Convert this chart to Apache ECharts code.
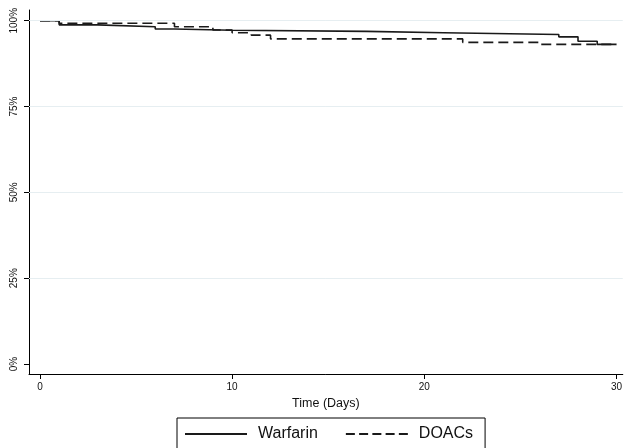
<!DOCTYPE html>
<html>
<head>
<meta charset="utf-8">
<script src="https://cdn.jsdelivr.net/npm/echarts@6/dist/echarts.min.js"></script>
<style>
html,body{margin:0;padding:0;background:#fff;}
#chart{width:625px;height:448px;}
</style>
</head>
<body>
<div id="chart"></div>
<script>
// Kaplan-Meier style step data (time in days, survival in %)
const warfarinTimes = [0, 1, 3, 6, 7, 10, 17, 21, 27, 28, 29, 30];
const warfarinSurv  = [100, 98.8, 98.25, 97.6, 97.2, 96.9, 96.5, 96.0, 95.3, 94.0, 93.1, 93.1];
const doacTimes = [0, 1, 7, 9, 10, 11, 12, 22, 26, 30];
const doacSurv  = [100, 99.25, 98.25, 97.3, 96.5, 95.8, 94.7, 93.7, 93.1, 93.1];
const xTicks = [0, 10, 20, 30];
const yTicks = [0, 25, 50, 75, 100];
const gridValues = [25, 50, 75, 100];
const seriesNames = ['Warfarin', 'DOACs'];
const xAxisTitle = 'Time (Days)';

// step function: hold each value until the next time point
const stepPairs = (ts, vs) => {
  const out = [];
  for (let i = 0; i < ts.length; i++) {
    out.push([ts[i], vs[i]]);
    if (i + 1 < ts.length) out.push([ts[i + 1], vs[i]]);
  }
  return out;
};

const chart = echarts.init(document.getElementById('chart'), null, {renderer: 'canvas'});
const font = 'Liberation Sans, Arial, Helvetica, sans-serif';
chart.setOption({
  animation: false,
  backgroundColor: '#ffffff',
  grid: {left: 29, right: 0, top: 10, bottom: 74, containLabel: false},
  xAxis: {
    type: 'value',
    min: -0.570,
    max: 30.33,
    name: xAxisTitle,
    nameLocation: 'middle',
    nameGap: 21,
    nameTextStyle: {fontFamily: font, fontSize: 12.5, color: '#111'},
    axisLine: {show: true, onZero: false, lineStyle: {color: '#000', width: 1}},
    axisTick: {show: true, length: 5, lineStyle: {color: '#000', width: 1}, customValues: xTicks},
    axisLabel: {show: true, fontFamily: font, fontSize: 10, color: '#111', margin: 8, customValues: xTicks, showMinLabel: true, showMaxLabel: true},
    splitLine: {show: false}
  },
  yAxis: {
    type: 'value',
    min: -2.91,
    max: 103.12,
    axisLine: {show: true, onZero: false, lineStyle: {color: '#000', width: 1}},
    axisTick: {show: true, length: 5, lineStyle: {color: '#000', width: 1}, customValues: yTicks},
    axisLabel: {show: true, rotate: 90, fontFamily: font, fontSize: 10, color: '#111', margin: 10,
      customValues: yTicks, formatter: v => Math.round(v) + '%'},
    splitLine: {show: false}
  },
  legend: {
    left: 177,
    top: 418,
    orient: 'horizontal',
    borderColor: '#000',
    borderWidth: 1,
    borderRadius: 0,
    padding: [8, 12, 8, 7],
    itemGap: 27,
    itemWidth: 62,
    itemHeight: 14,
    itemStyle: {opacity: 0, borderWidth: 0},
    data: [
      {name: seriesNames[0]},
      {name: seriesNames[1], lineStyle: {type: [9, 4.25]}}
    ],
    textStyle: {fontFamily: font, fontSize: 16, color: '#111', padding: [0, 0, 0, 6]}
  },
  series: [
    {
      name: '_grid',
      type: 'line',
      data: [],
      z: 1,
      silent: true,
      markLine: {
        silent: true,
        symbol: 'none',
        label: {show: false},
        lineStyle: {color: '#e6eef1', width: 1, type: 'solid'},
        data: gridValues.map(v => ({yAxis: v}))
      }
    },
    {
      name: seriesNames[0],
      type: 'line',
      data: stepPairs(warfarinTimes, warfarinSurv),
      showSymbol: false,
      symbol: 'none',
      z: 3,
      itemStyle: {color: '#1a1a1a'},
      lineStyle: {color: '#1a1a1a', width: 1.6, type: 'solid'}
    },
    {
      name: seriesNames[1],
      type: 'line',
      data: stepPairs(doacTimes, doacSurv),
      showSymbol: false,
      symbol: 'none',
      z: 3,
      itemStyle: {color: '#1a1a1a'},
      lineStyle: {color: '#1a1a1a', width: 1.6, type: [10, 5]}
    }
  ]
});
</script>
</body>
</html>
